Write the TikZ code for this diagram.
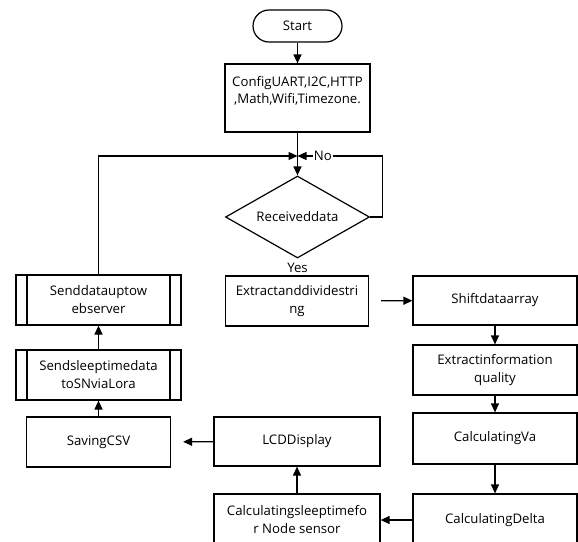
\documentclass[tikz,border=0pt]{standalone}
\usepackage{fontspec}
\setmainfont{Open Sans}
\usepackage{tikz}
\usetikzlibrary{
    arrows.meta,
    shapes.geometric
}

\begin{document}
\begin{tikzpicture}[->,>={Triangle[length=9pt,width=8pt]},x=1pt,y=-1pt,line width=1.2pt,
    font=\fontsize{13.2}{18}\selectfont]
    \tikzstyle{box}=[-, draw, rectangle, align=center, inner sep=2pt]
    \tikzstyle{term}=[box, rounded corners=16pt, minimum width=89pt, minimum height=32pt]
    \tikzstyle{decision}=[-, draw, diamond, aspect=1.75, inner sep=0pt, minimum width=144pt, minimum height=82pt]
    \tikzstyle{subproc}=[box, minimum width=165pt, minimum height=50pt,
        path picture={\draw[-] ([xshift=11pt]path picture bounding box.north west) -- ([xshift=11pt]path picture bounding box.south west);
        \draw[-] ([xshift=-11pt]path picture bounding box.north east) -- ([xshift=-11pt]path picture bounding box.south east);}]
    \path[use as bounding box, clip] (0,0) rectangle (578,541);
    % main column
    \node[term] (start) at (297.5,26) {Start};
    \node[box, minimum width=145pt, minimum height=68pt, font=\fontsize{13.2}{17}\selectfont] (cfg) at (297.5,98) {ConfigUART,I2C,HTTP\\,Math,Wifi,Timezone.\\\mbox{}};
    \coordinate (jn) at (297.5,156);
    \node[decision] (rx) at (297.5,217) {Receiveddata};
    \node (yes) at (297.5,268) {Yes};
    \node[box, minimum width=143pt, minimum height=50pt] (split) at (297,301) {Extractanddividestri\\ng};
    % right column
    \node[box, minimum width=164pt, minimum height=49pt] (shift) at (495,300.5) {Shiftdataarray};
    \node[box, minimum width=164pt, minimum height=50pt] (info) at (495,370) {Extractinformation\\quality};
    \node[box, minimum width=164pt, minimum height=51pt] (va) at (495,438.5) {CalculatingVa};
    \node[box, minimum width=164pt, minimum height=52pt] (delta) at (495,520) {CalculatingDelta};
    % bottom row
    \node[box, minimum width=166pt, minimum height=52pt] (sleep) at (297,520) {Calculatingsleeptimefo\\r Node sensor};
    \node[box, minimum width=166pt, minimum height=49pt] (lcd) at (297,441.5) {LCDDisplay};
    \node[box, minimum width=144pt, minimum height=50pt] (csv) at (98.5,442) {SavingCSV};
    % left column
    \node[subproc] (lora) at (98.5,375) {Sendsleeptimedata\\toSNviaLora};
    \node[subproc] (web) at (98.5,300) {Senddatauptow\\ebserver};

    \draw (start) -- (cfg);
    \draw (cfg) -- (rx);
    \draw (web) |- (jn);
    \draw (rx.east) -- ++(12,0) |- node[pos=0.85, fill=white, inner sep=1pt]{No} (jn);
    \draw[shorten <=12pt] (split) -- (shift);
    \draw (shift) -- (info);
    \draw (info) -- (va);
    \draw (va) -- (delta);
    \draw (delta) -- (sleep);
    \draw (sleep) -- (lcd);
    \draw[shorten >=12pt] (lcd) -- (csv);
    \draw (csv) -- (lora);
    \draw (lora) -- (web);
\end{tikzpicture}
\end{document}
